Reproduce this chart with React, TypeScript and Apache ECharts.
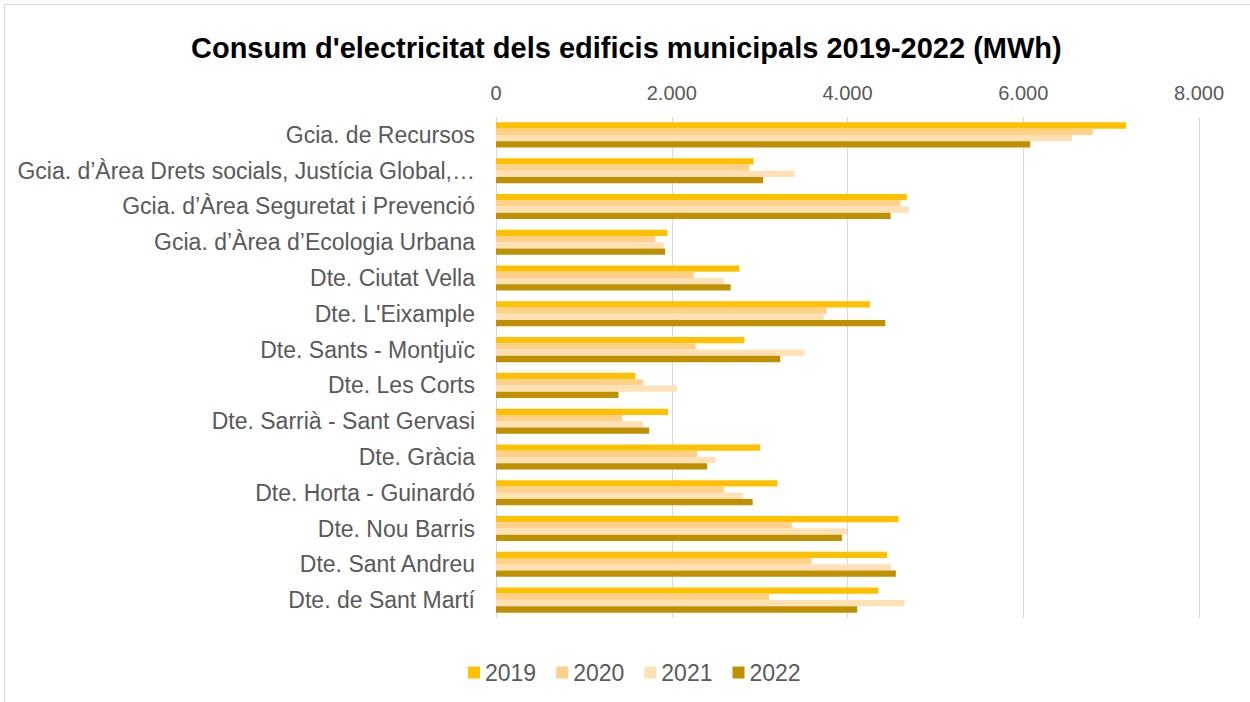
import React, { useEffect, useRef } from "react";
import * as echarts from "echarts";

const categories = [
  "Gcia. de Recursos",
  "Gcia. d’Àrea Drets socials, Justícia Global,…",
  "Gcia. d’Àrea Seguretat i Prevenció",
  "Gcia. d’Àrea d’Ecologia Urbana",
  "Dte. Ciutat Vella",
  "Dte. L'Eixample",
  "Dte. Sants - Montjuïc",
  "Dte. Les Corts",
  "Dte. Sarrià - Sant Gervasi",
  "Dte. Gràcia",
  "Dte. Horta - Guinardó",
  "Dte. Nou Barris",
  "Dte. Sant Andreu",
  "Dte. de Sant Martí",
];

const seriesNames = ["2019", "2020", "2021", "2022"];

const values2019 = [7170, 2930, 4675, 1950, 2770, 4255, 2827, 1586, 1958, 3005, 3204, 4581, 4450, 4351];
const values2020 = [6790, 2885, 4600, 1810, 2250, 3760, 2272, 1675, 1435, 2288, 2592, 3366, 3592, 3110];
const values2021 = [6555, 3400, 4700, 1910, 2595, 3730, 3508, 2058, 1675, 2497, 2812, 3995, 4497, 4649];
const values2022 = [6080, 3040, 4490, 1925, 2670, 4430, 3235, 1393, 1743, 2403, 2921, 3937, 4550, 4110];

const xTicks = [0, 2000, 4000, 6000, 8000];

const colors = ["#FFC000", "#FFD08A", "#FFE1B5", "#BF9000"];

const fmt = (v: number) => String(v).replace(/\B(?=(\d{3})+(?!\d))/g, ".");

export default function App() {
  const ref = useRef<HTMLDivElement>(null);

  useEffect(() => {
    if (!ref.current) return;
    const chart = echarts.init(ref.current, null, { renderer: "svg" });
    const allValues = [values2019, values2020, values2021, values2022];
    const font = "'Liberation Sans', Arial, sans-serif";
    chart.setOption({
      animation: false,
      backgroundColor: "#ffffff",
      textStyle: { fontFamily: font },
      title: {
        text: "Consum d'electricitat dels edificis municipals 2019-2022 (MWh)",
        left: 186,
        top: 28,
        textStyle: { fontFamily: font, fontSize: 29, fontWeight: "bold", color: "#000000" },
      },
      graphic: [
        {
          type: "rect",
          shape: { x: 4.5, y: 4.5, width: 1300, height: 800 },
          style: { fill: "none", stroke: "#d9d9d9", lineWidth: 1 },
          silent: true,
          z: -1,
        },
      ],
      legend: {
        data: seriesNames,
        left: 463,
        top: 656,
        itemWidth: 12,
        itemHeight: 12,
        itemGap: 20,
        icon: "rect",
        textStyle: { fontFamily: font, fontSize: 23, color: "#595959" },
      },
      grid: { left: 496, right: 51, top: 117, bottom: 84, containLabel: false },
      xAxis: {
        type: "value",
        position: "top",
        min: xTicks[0],
        max: xTicks[xTicks.length - 1],
        interval: 2000,
        axisLine: { show: false },
        axisTick: { show: false },
        splitLine: { show: true, lineStyle: { color: "#d9d9d9", width: 1 } },
        axisLabel: {
          margin: 14,
          fontFamily: font,
          fontSize: 20,
          color: "#595959",
          formatter: (v: number) => fmt(v),
        },
      },
      yAxis: {
        type: "category",
        inverse: true,
        data: categories,
        axisLine: { show: false },
        axisTick: { show: false },
        axisLabel: { margin: 21, fontFamily: font, fontSize: 23, color: "#595959" },
      },
      series: seriesNames.map((name, i) => ({
        name,
        type: "bar",
        data: allValues[i],
        barGap: "0%",
        barCategoryGap: "30%",
        itemStyle: { color: colors[i] },
      })),
    });
    return () => chart.dispose();
  }, []);

  return (
    <div
      ref={ref}
      style={{ position: "fixed", left: 0, top: 0, width: 1250, height: 702 }}
    />
  );
}
